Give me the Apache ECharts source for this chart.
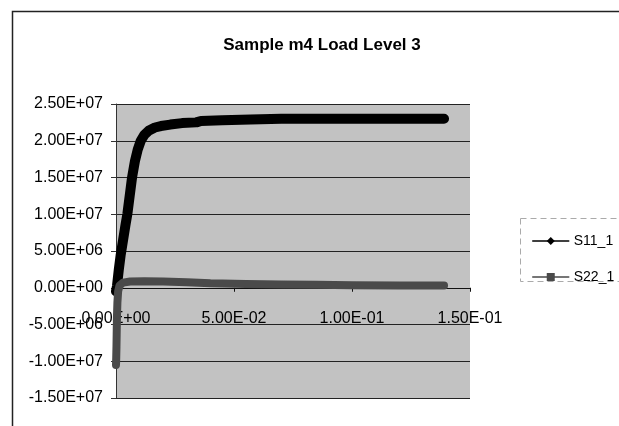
<!DOCTYPE html>
<html>
<head>
<meta charset="utf-8">
<script src="https://cdn.jsdelivr.net/npm/echarts@6/dist/echarts.min.js"></script>
<style>html,body{margin:0;padding:0;background:#fff}#c{width:619px;height:426px}</style>
</head>
<body>
<div id="c"></div>
<script>
const chartTitle = 'Sample m4 Load Level 3';
const seriesNames = ['S11_1', 'S22_1'];
const s11X = [0, 0.0004, 0.0012, 0.002, 0.003, 0.004, 0.0048, 0.0058, 0.0068, 0.008, 0.0092, 0.0105, 0.012, 0.014, 0.0165, 0.019, 0.023, 0.028, 0.034, 0.036, 0.045, 0.057, 0.07, 0.085, 0.1, 0.115, 0.13, 0.139];
const s11Y = [-0.5e6, 0.2e6, 2.5e6, 4.5e6, 6.5e6, 8.5e6, 1.0e7, 1.25e7, 1.5e7, 1.72e7, 1.88e7, 2.0e7, 2.08e7, 2.14e7, 2.18e7, 2.2e7, 2.22e7, 2.24e7, 2.25e7, 2.27e7, 2.28e7, 2.29e7, 2.3e7, 2.3e7, 2.3e7, 2.3e7, 2.3e7, 2.3e7];
const s22X = [0, 0.0001, 0.0002, 0.0003, 0.0004, 0.0006, 0.0009, 0.0015, 0.003, 0.006, 0.012, 0.02, 0.03, 0.04, 0.055, 0.07, 0.085, 0.1, 0.12, 0.139];
const s22Y = [-1.05e7, -9.5e6, -8e6, -6e6, -4e6, -2e6, -0.5e6, 0.3e6, 0.7e6, 0.85e6, 0.9e6, 0.85e6, 0.75e6, 0.6e6, 0.5e6, 0.45e6, 0.4e6, 0.35e6, 0.3e6, 0.3e6];
const xTicks = [0, 0.05, 0.1, 0.15];
const yTicks = [-1.5e7, -1e7, -5e6, 0, 5e6, 1e7, 1.5e7, 2e7, 2.5e7];

function sci(v) {
  if (Math.abs(v) < 1e-12) return '0.00E+00';
  const s = v.toExponential(2);
  const parts = s.split('e');
  const n = parseInt(parts[1], 10);
  return parts[0] + 'E' + (n < 0 ? '-' : '+') + String(Math.abs(n)).padStart(2, '0');
}
const zip = (xs, ys) => xs.map((x, i) => [x, ys[i]]);
const FONT = 'Liberation Sans, Arial, sans-serif';

// grid geometry (layout only)
const GRID_TOP = 104, GRID_BOTTOM = 28, H = 426;
const plotH = H - GRID_TOP - GRID_BOTTOM;
const yMin = yTicks[0], yMax = yTicks[yTicks.length - 1];
// shift x axis up from the plot bottom to where y = 0 falls
const xAxisOffset = -plotH * (0 - yMin) / (yMax - yMin);

const chart = echarts.init(document.getElementById('c'), null, {renderer: 'canvas'});
chart.setOption({
  animation: false,
  backgroundColor: '#ffffff',
  title: {
    text: chartTitle, left: 317, top: 32, textAlign: 'center',
    textStyle: {fontFamily: FONT, fontSize: 17, fontWeight: 'bold', color: '#000'}
  },
  grid: {
    left: 116, top: GRID_TOP, right: 149, bottom: GRID_BOTTOM,
    outerBoundsMode: 'none', containLabel: false,
    show: true, backgroundColor: '#c2c2c2', borderWidth: 0
  },
  legend: {
    orient: 'vertical', left: 527, top: 229,
    itemWidth: 36, itemHeight: 10, itemGap: 22,
    lineStyle: {width: 1.5},
    textStyle: {fontFamily: FONT, fontSize: 14, color: '#000'},
    data: seriesNames
  },
  xAxis: {
    type: 'value', min: xTicks[0], max: xTicks[xTicks.length - 1], interval: 0.05,
    position: 'bottom', offset: xAxisOffset,
    axisLine: {show: true, onZero: false, lineStyle: {color: '#111', width: 1}},
    axisTick: {show: true, length: 4, lineStyle: {color: '#111'}},
    splitLine: {show: false},
    axisLabel: {margin: 23, fontFamily: FONT, fontSize: 16, color: '#000', formatter: sci, hideOverlap: false}
  },
  yAxis: {
    type: 'value', min: yMin, max: yMax, interval: 5e6,
    axisLine: {show: true, onZero: false, lineStyle: {color: '#333', width: 1}},
    axisTick: {show: true, length: 5, lineStyle: {color: '#333'}},
    splitLine: {show: true, lineStyle: {color: '#222', width: 1}},
    axisLabel: {margin: 13, fontFamily: FONT, fontSize: 16, color: '#000', formatter: sci}
  },
  graphic: [
    {type: 'polyline', shape: {points: [[12.5, 430], [12.5, 11.5], [619, 11.5]]}, style: {stroke: '#222', lineWidth: 1.5, fill: null}, silent: true},
    {type: 'rect', shape: {x: 520.5, y: 218.5, width: 110, height: 63}, style: {stroke: '#aaa', lineWidth: 1, lineDash: [6, 4], fill: null}, silent: true}
  ],
  series: [
    {
      name: seriesNames[0], type: 'line', data: zip(s11X, s11Y),
      symbol: 'diamond', symbolSize: 8, showSymbol: false,
      itemStyle: {color: '#000'},
      lineStyle: {color: '#000', width: 10, cap: 'round', join: 'round'}
    },
    {
      name: seriesNames[1], type: 'line', data: zip(s22X, s22Y),
      symbol: 'rect', symbolSize: 7, showSymbol: false,
      itemStyle: {color: '#4a4a4a'},
      lineStyle: {color: '#4a4a4a', width: 8, cap: 'round', join: 'round'}
    }
  ]
});
</script>
</body>
</html>
